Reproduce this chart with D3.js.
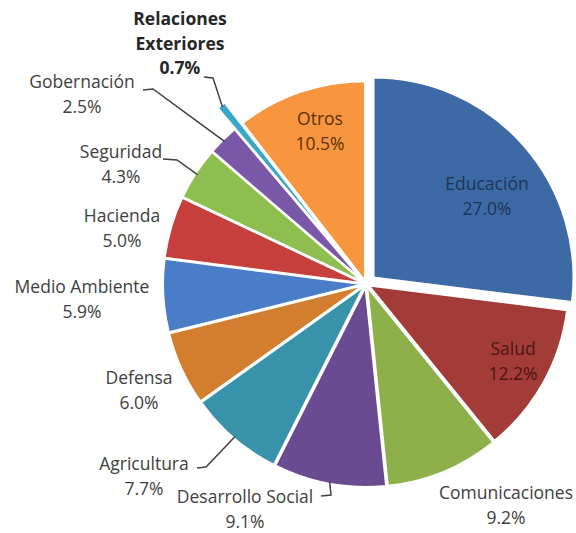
<!DOCTYPE html>
<html>
<head>
<meta charset="utf-8">
<script src="https://cdn.jsdelivr.net/npm/d3@7"></script>
<style>
  body { margin: 0; background: #fff; }
  text { font-family: "Open Sans", sans-serif; font-size: 17.5px; }
</style>
</head>
<body>
<svg id="chart"></svg>
<script>
const width = 576;
const height = 533;

// data
const categories = ["Educación", "Salud", "Comunicaciones", "Desarrollo Social", "Agricultura",
  "Defensa", "Medio Ambiente", "Hacienda", "Seguridad", "Gobernación", "Relaciones Exteriores", "Otros"];
const values = [27.0, 12.2, 9.2, 9.1, 7.7, 6.0, 5.9, 5.0, 4.3, 2.5, 0.7, 10.5];
const labelLines = [["Educación"], ["Salud"], ["Comunicaciones"], ["Desarrollo Social"], ["Agricultura"],
  ["Defensa"], ["Medio Ambiente"], ["Hacienda"], ["Seguridad"], ["Gobernación"], ["Relaciones", "Exteriores"], ["Otros"]];

// styling / layout
const colors = ["#3d6aa5", "#a33b38", "#8db04b", "#6a4b92", "#3893aa", "#d37e2e",
  "#4a7dc7", "#c5403d", "#8ebe4f", "#7b57a8", "#3aa7c6", "#f7963f"];
const textColors = ["#1c3458", "#4a1513", "#404040", "#404040", "#404040", "#404040",
  "#404040", "#404040", "#404040", "#404040", "#262626", "#5a2f08"];
const explode = [10, 3, 3, 3, 3, 3, 3, 3, 3, 3, 30, 3];
const labelPos = [[487, 190], [513, 355], [506, 499], [245, 503], [144, 470], [139, 384],
  [82, 293], [122, 222], [121, 158], [82, 88], [180, 25], [320, 125]];
// leader lines: start point and elbow, the end is on the slice
const leaders = {
  3: [[321, 496], [331, 495]],
  4: [[197, 468], [206, 467]],
  8: [[163, 159], [177, 160]],
  9: [[143, 90], [153, 89]],
  10: [[204, 77], [213, 78]]
};

const cx = 366, cy = 284, r = 200;

let svg = d3.select('#chart')
  .attr('width', width)
  .attr('height', height);

let pie = d3.pie().sort(null).value(d => d);
let arcs = pie(values);

let arc = d3.arc().innerRadius(0).outerRadius(r);

function offset(d, dist) {
  let a = (d.startAngle + d.endAngle) / 2;
  return [dist * Math.sin(a), -dist * Math.cos(a)];
}

let g = svg.append('g').attr('transform', `translate(${cx},${cy})`);

g.selectAll('path.slice')
  .data(arcs)
  .enter()
  .append('path')
  .attr('class', 'slice')
  .attr('transform', (d, i) => {
    let o = offset(d, explode[i]);
    return `translate(${o[0]},${o[1]})`;
  })
  .attr('d', arc)
  .attr('fill', (d, i) => colors[i])
  .attr('stroke', '#fff')
  .attr('stroke-width', 2)
  .attr('stroke-linejoin', 'round');

// leader lines
Object.keys(leaders).forEach(k => {
  let i = +k;
  let d = arcs[i];
  let o = offset(d, explode[i]);
  let e = offset(d, r - 2);
  let end = [cx + o[0] + e[0], cy + o[1] + e[1]];
  let pts = [leaders[i][0], leaders[i][1], end];
  svg.append('path')
    .attr('d', d3.line()(pts))
    .attr('fill', 'none')
    .attr('stroke', '#404040')
    .attr('stroke-width', 1.5);
});

// labels
arcs.forEach((d, i) => {
  let lines = labelLines[i].concat([values[i].toFixed(1) + '%']);
  let t = svg.append('text')
    .attr('text-anchor', 'middle')
    .attr('fill', textColors[i])
    .attr('font-weight', i === 10 ? 'bold' : 'normal');
  lines.forEach((s, j) => {
    t.append('tspan')
      .attr('x', labelPos[i][0])
      .attr('y', labelPos[i][1] + j * 24.5)
      .text(s);
  });
});
</script>
</body>
</html>
